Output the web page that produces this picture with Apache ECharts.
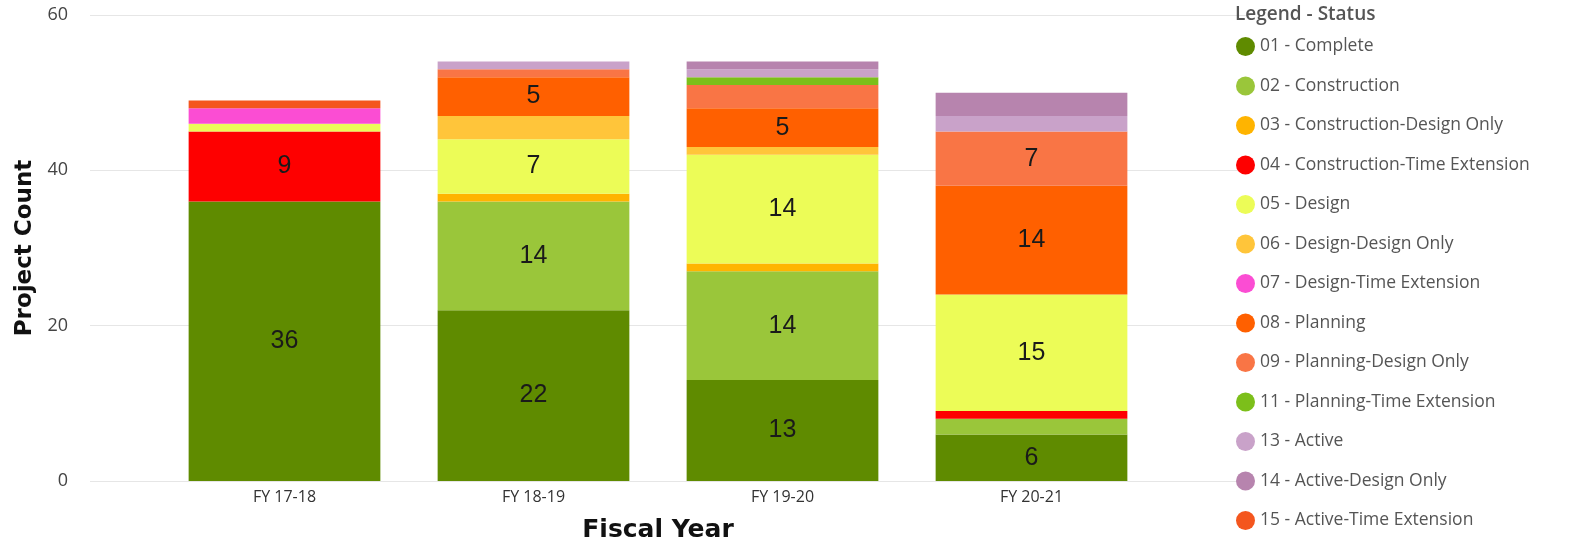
<!DOCTYPE html>
<html>
<head>
<meta charset="utf-8">
<script src="https://cdn.jsdelivr.net/npm/echarts@6/dist/echarts.min.js"></script>
<style>
html,body{margin:0;padding:0;background:#fff;}
#chart{width:1589px;height:548px;}
</style>
</head>
<body>
<div id="chart"></div>
<script>
const categories = ['FY 17-18', 'FY 18-19', 'FY 19-20', 'FY 20-21'];
const yTicks = [0, 20, 40, 60];

const statusNames = [
  '01 - Complete',
  '02 - Construction',
  '03 - Construction-Design Only',
  '04 - Construction-Time Extension',
  '05 - Design',
  '06 - Design-Design Only',
  '07 - Design-Time Extension',
  '08 - Planning',
  '09 - Planning-Design Only',
  '11 - Planning-Time Extension',
  '13 - Active',
  '14 - Active-Design Only',
  '15 - Active-Time Extension'
];

const complete            = [36, 22, 13, 6];
const construction        = [null, 14, 14, 2];
const constructionDesign  = [null, 1, 1, null];
const constructionTimeExt = [9, null, null, 1];
const design              = [1, 7, 14, 15];
const designDesign        = [null, 3, 1, null];
const designTimeExt       = [2, null, null, null];
const planning            = [null, 5, 5, 14];
const planningDesign      = [null, 1, 3, 7];
const planningTimeExt     = [null, null, 1, null];
const active              = [null, 1, 1, 2];
const activeDesign        = [null, null, 1, 3];
const activeTimeExt       = [1, null, null, null];

const seriesValues = [complete, construction, constructionDesign, constructionTimeExt,
  design, designDesign, designTimeExt, planning, planningDesign, planningTimeExt,
  active, activeDesign, activeTimeExt];

const colors = ['#5F8B00', '#9AC63A', '#FFB400', '#FE0000', '#ECFC57', '#FFC53A',
  '#FB4DD3', '#FF6000', '#F97545', '#7CBF1A', '#C9A2C9', '#B784AE', '#F4561E'];

const chart = echarts.init(document.getElementById('chart'));

const series = statusNames.map((name, i) => ({
  name: name,
  type: 'bar',
  stack: 'total',
  xAxisIndex: 0,
  yAxisIndex: 0,
  barCategoryGap: '23%',
  data: seriesValues[i],
  itemStyle: { color: colors[i] },
  label: {
    show: true,
    position: 'inside',
    fontSize: 25,
    color: '#1a1a1a',
    fontFamily: 'Liberation Sans, Arial, sans-serif',
    formatter: p => (p.value != null && p.value >= 5) ? String(p.value) : ''
  },
  emphasis: { disabled: true }
}));

const option = {
  backgroundColor: '#fff',
  animation: false,
  color: colors,
  title: {
    text: 'Legend - Status',
    left: 1230,
    top: 0,
    textStyle: { fontSize: 19, fontWeight: 600, color: '#555', fontFamily: 'Open Sans, Noto Sans, sans-serif' }
  },
  legend: {
    orient: 'vertical',
    left: 1231,
    top: 32,
    icon: 'circle',
    itemWidth: 19,
    itemHeight: 19,
    itemGap: 20.5,
    textStyle: { fontSize: 17.5, color: '#555', fontFamily: 'Open Sans, Noto Sans, sans-serif' },
    data: statusNames
  },
  grid: [
    { left: 160, right: 433, top: 15, bottom: 67, containLabel: false, outerBoundsMode: 'none' },
    { left: 90, right: 339, top: 15, bottom: 67, containLabel: false, outerBoundsMode: 'none' }
  ],
  xAxis: [
    {
      type: 'category',
      gridIndex: 0,
      data: categories,
      axisLine: { show: false },
      axisTick: { show: false },
      axisLabel: { fontSize: 16, color: '#333', margin: 8, fontFamily: 'Open Sans, Noto Sans, sans-serif' },
      name: 'Fiscal Year',
      nameLocation: 'middle',
      nameGap: 37,
      nameTextStyle: { fontSize: 25, fontWeight: 'bold', color: '#111', fontFamily: 'DejaVu Sans, sans-serif' }
    },
    {
      type: 'value',
      gridIndex: 1,
      show: false
    }
  ],
  yAxis: [
    {
      type: 'value',
      gridIndex: 0,
      min: 0, max: 60, interval: 20,
      show: false,
      splitLine: { show: false }
    },
    {
      type: 'value',
      gridIndex: 1,
      min: yTicks[0], max: yTicks[yTicks.length - 1], interval: 20,
      axisLine: { show: false },
      axisTick: { show: false },
      splitLine: { show: true, lineStyle: { color: '#e6e6e6', width: 1 } },
      axisLabel: { fontSize: 18, color: '#444', margin: 22, fontFamily: 'Open Sans, Noto Sans, sans-serif' },
      name: 'Project Count',
      nameLocation: 'middle',
      nameGap: 51,
      nameTextStyle: { fontSize: 23, fontWeight: 'bold', color: '#111', fontFamily: 'DejaVu Sans, sans-serif' }
    }
  ],
  series: series
};

chart.setOption(option);
</script>
</body>
</html>
